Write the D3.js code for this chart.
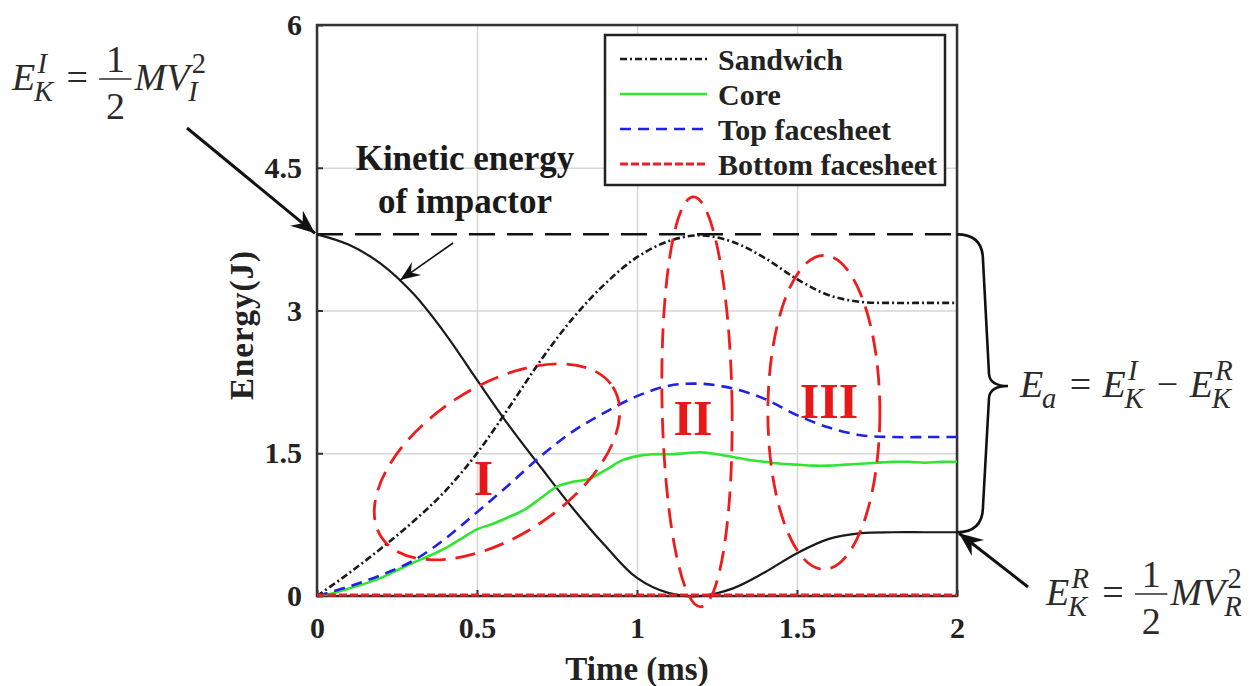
<!DOCTYPE html>
<html>
<head>
<meta charset="utf-8">
<script src="https://cdn.jsdelivr.net/npm/d3@7"></script>
<style>
  body { margin: 0; background: #fff; }
  svg { display: block; }
</style>
</head>
<body>
<svg id="chart" width="1253" height="686"></svg>
<script>
// time axis (ms) for the smooth curves
const time = [0, 0.1, 0.2, 0.3, 0.4, 0.5, 0.6, 0.7, 0.8, 0.9, 1.0,
              1.1, 1.2, 1.3, 1.4, 1.5, 1.6, 1.7, 1.8, 1.9, 2.0]
// energies (J)
const kinetic  = [3.80, 3.69, 3.49, 3.18, 2.76, 2.27, 1.79, 1.35, 0.92, 0.53, 0.19,
                  0.03, 0.00, 0.08, 0.25, 0.45, 0.60, 0.66, 0.67, 0.67, 0.67]
const sandwich = [0.00, 0.24, 0.50, 0.78, 1.10, 1.50, 1.98, 2.48, 2.92, 3.28, 3.56,
                  3.73, 3.79, 3.72, 3.55, 3.33, 3.16, 3.09, 3.08, 3.08, 3.08]
const topSheet = [0.00, 0.10, 0.22, 0.37, 0.60, 0.88, 1.17, 1.47, 1.73, 1.93, 2.10,
                  2.21, 2.23, 2.18, 2.07, 1.90, 1.77, 1.69, 1.67, 1.67, 1.67]
const bottomSheet = [0.01, 0.01, 0.01, 0.01, 0.01, 0.01, 0.01, 0.01, 0.01, 0.01, 0.01,
                     0.01, 0.01, 0.01, 0.01, 0.01, 0.01, 0.01, 0.01, 0.01, 0.01]
// the core curve is wavy, so it is read at a finer step
const coreTime = [0, 0.05, 0.1, 0.15, 0.2, 0.25, 0.3, 0.35, 0.4, 0.45, 0.5,
                  0.55, 0.6, 0.65, 0.7, 0.75, 0.8, 0.85, 0.9, 0.95, 1.0,
                  1.05, 1.1, 1.15, 1.2, 1.25, 1.3, 1.35, 1.4, 1.45, 1.5,
                  1.55, 1.6, 1.65, 1.7, 1.75, 1.8, 1.85, 1.9, 1.95, 2.0]
const core = [0.00, 0.03, 0.08, 0.13, 0.19, 0.27, 0.35, 0.42, 0.50, 0.60, 0.70,
              0.76, 0.83, 0.91, 1.03, 1.15, 1.20, 1.23, 1.32, 1.42, 1.47,
              1.49, 1.49, 1.50, 1.51, 1.49, 1.46, 1.43, 1.41, 1.39, 1.38,
              1.37, 1.37, 1.38, 1.39, 1.40, 1.41, 1.41, 1.40, 1.41, 1.41]

const xTicks = [0, 0.5, 1, 1.5, 2]
const yTicks = [0, 1.5, 3, 4.5, 6]
const legendNames = ["Sandwich", "Core", "Top facesheet", "Bottom facesheet"]
const stageLabels = ["I", "II", "III"]

const serif = "'Times New Roman', 'Liberation Serif', 'DejaVu Serif', serif"
const svg = d3.select("#chart")

const x = d3.scaleLinear().domain([0, 2]).range([317, 957])
const y = d3.scaleLinear().domain([0, 6]).range([596, 25])

// grid
svg.append("g")
    .attr("transform", "translate(0,596)")
    .call(d3.axisBottom(x).tickValues(xTicks).tickSize(-571).tickFormat(""))
    .call(g => g.select(".domain").remove())
    .selectAll("line").attr("stroke", "#d6d6d6").attr("stroke-width", 1.5)
svg.append("g")
    .attr("transform", "translate(317,0)")
    .call(d3.axisLeft(y).tickValues(yTicks).tickSize(-640).tickFormat(""))
    .call(g => g.select(".domain").remove())
    .selectAll("line").attr("stroke", "#d6d6d6").attr("stroke-width", 1.5)

// axes with inward ticks
const xAxis = svg.append("g")
    .attr("transform", "translate(0,596)")
    .call(d3.axisBottom(x).tickValues(xTicks).tickSizeInner(-6).tickSizeOuter(0)
        .tickPadding(21).tickFormat(d3.format("~g")))
const yAxis = svg.append("g")
    .attr("transform", "translate(317,0)")
    .call(d3.axisLeft(y).tickValues(yTicks).tickSizeInner(-6).tickSizeOuter(0)
        .tickPadding(15).tickFormat(d3.format("~g")))
for (const ax of [xAxis, yAxis]) {
    ax.select(".domain").remove()
    ax.selectAll("line").attr("stroke", "#333").attr("stroke-width", 2)
    ax.selectAll("text")
        .attr("fill", "#222")
        .style("font-family", serif)
        .style("font-size", "30px")
        .style("font-weight", "bold")
}

svg.append("rect")
    .attr("x", x(0)).attr("y", y(6))
    .attr("width", x(2) - x(0)).attr("height", y(0) - y(6))
    .attr("fill", "none").attr("stroke", "#333").attr("stroke-width", 2.5)

// axis titles
svg.append("text")
    .attr("x", (x(0) + x(2)) / 2).attr("y", 680)
    .attr("text-anchor", "middle")
    .style("font-family", serif).style("font-size", "33px").style("font-weight", "bold")
    .attr("fill", "#222")
    .text("Time (ms)")
svg.append("text")
    .attr("transform", "translate(253,325) rotate(-90)")
    .attr("text-anchor", "middle")
    .style("font-family", serif).style("font-size", "33px").style("font-weight", "bold")
    .style("letter-spacing", "1px")
    .attr("fill", "#222")
    .text("Energy(J)")

// impactor energy reference line
svg.append("line")
    .attr("x1", x(0)).attr("x2", x(2))
    .attr("y1", y(kinetic[0])).attr("y2", y(kinetic[0]))
    .attr("stroke", "#111").attr("stroke-width", 2.5)
    .attr("stroke-dasharray", "26,12")

// series
const styles = {
    Sandwich: { color: "#1a1a1a", dash: "7,3,2,3", width: 2.6 },
    Core: { color: "#2fe62f", dash: null, width: 2.6 },
    "Top facesheet": { color: "#2020e6", dash: "11,7", width: 2.6 },
    "Bottom facesheet": { color: "#e8202a", dash: "8,3", width: 3 }
}
const line = (xs) => d3.line()
    .x((d, i) => x(xs[i]))
    .y(d => y(d))
    .curve(d3.curveCatmullRom)

function drawSeries(values, xs, st) {
    svg.append("path")
        .datum(values)
        .attr("d", line(xs))
        .attr("fill", "none")
        .attr("stroke", st.color)
        .attr("stroke-width", st.width)
        .attr("stroke-dasharray", st.dash)
}
drawSeries(kinetic, time, { color: "#1a1a1a", dash: null, width: 2.2 })
drawSeries(core, coreTime, styles.Core)
drawSeries(topSheet, time, styles["Top facesheet"])
drawSeries(sandwich, time, styles.Sandwich)
drawSeries(bottomSheet, time, styles["Bottom facesheet"])

// stage ellipses (centre in data units, radii in px)
const stages = [
    { t: 0.5625, e: 1.41, rx: 138, ry: 75, rot: -33, lt: 0.52, le: 1.06 },
    { t: 1.1875, e: 2.04, rx: 35, ry: 205, rot: -1, lt: 1.175, le: 1.69 },
    { t: 1.584, e: 1.93, rx: 56, ry: 157, rot: 0, lt: 1.60, le: 1.87 }
]
stages.forEach((s, i) => {
    svg.append("ellipse")
        .attr("transform", "translate(" + x(s.t) + "," + y(s.e) + ") rotate(" + s.rot + ")")
        .attr("rx", s.rx).attr("ry", s.ry)
        .attr("fill", "none").attr("stroke", "#f01c1c").attr("stroke-width", 2.8)
        .attr("stroke-dasharray", "20,10")
    svg.append("text")
        .attr("x", x(s.lt)).attr("y", y(s.le))
        .attr("text-anchor", "middle")
        .style("font-family", serif).style("font-size", "50px").style("font-weight", "bold")
        .attr("fill", "#e81818")
        .text(stageLabels[i])
})

// legend
const leg = svg.append("g")
leg.append("rect")
    .attr("x", 605).attr("y", 35).attr("width", 340).attr("height", 150)
    .attr("fill", "#fff").attr("stroke", "#222").attr("stroke-width", 2.5)
legendNames.forEach((name, i) => {
    const ly = 59 + i * 35
    const st = styles[name]
    leg.append("line")
        .attr("x1", 620).attr("x2", 707).attr("y1", ly).attr("y2", ly)
        .attr("stroke", st.color).attr("stroke-width", st.width)
        .attr("stroke-dasharray", st.dash)
    leg.append("text")
        .attr("x", 718).attr("y", ly).attr("dy", "0.35em")
        .style("font-family", serif).style("font-size", "30px").style("font-weight", "bold")
        .attr("fill", "#222")
        .text(name)
})

// arrow markers
const defs = svg.append("defs")
defs.append("marker")
    .attr("id", "head").attr("markerUnits", "userSpaceOnUse")
    .attr("viewBox", "-24 -12 26 24").attr("refX", 0).attr("refY", 0)
    .attr("markerWidth", 26).attr("markerHeight", 24).attr("orient", "auto")
    .append("path").attr("d", "M0,0 L-24,-10 L-16,0 L-24,10 Z").attr("fill", "#111")
defs.append("marker")
    .attr("id", "headSmall").attr("markerUnits", "userSpaceOnUse")
    .attr("viewBox", "-20 -10 22 20").attr("refX", 0).attr("refY", 0)
    .attr("markerWidth", 22).attr("markerHeight", 20).attr("orient", "auto")
    .append("path").attr("d", "M0,0 L-20,-8 L-13,0 L-20,8 Z").attr("fill", "#111")

// "Kinetic energy of impactor" note
const note = svg.append("text")
    .attr("text-anchor", "middle")
    .style("font-family", serif).style("font-size", "35px").style("font-weight", "bold")
    .attr("fill", "#1a1a1a")
note.append("tspan").attr("x", 465).attr("y", 170).text("Kinetic energy")
note.append("tspan").attr("x", 465).attr("y", 213).text("of impactor")
svg.append("line")
    .attr("x1", 453).attr("y1", 243).attr("x2", x(0.26)).attr("y2", y(3.32))
    .attr("stroke", "#111").attr("stroke-width", 1.6)
    .attr("marker-end", "url(#headSmall)")

// arrows to E_K^I and E_K^R
svg.append("line")
    .attr("x1", 187).attr("y1", 128).attr("x2", x(0) - 2).attr("y2", y(kinetic[0]) - 1)
    .attr("stroke", "#111").attr("stroke-width", 3)
    .attr("marker-end", "url(#head)")
svg.append("line")
    .attr("x1", 1028).attr("y1", 587).attr("x2", x(2) + 2).attr("y2", y(kinetic[kinetic.length - 1]) + 1)
    .attr("stroke", "#111").attr("stroke-width", 3)
    .attr("marker-end", "url(#head)")

// brace for E_a
const yT = y(kinetic[0]), yB = y(kinetic[kinetic.length - 1]), yM = 386
svg.append("path")
    .attr("d", `M${x(2)},${yT} Q983,${yT} 983,${yT + 26} L989,${yM - 12} Q990,${yM} 1008,${yM}
                Q990,${yM} 989,${yM + 12} L983,${yB - 26} Q983,${yB} ${x(2)},${yB}`)
    .attr("fill", "none").attr("stroke", "#111").attr("stroke-width", 2.6)

// math formulas
function formula(x0, y0, S, items) {
    const g = svg.append("g").attr("fill", "#2b2b2b").style("font-family", serif)
    let cx = x0
    const put = (txt, px, py, size, italic) => {
        const t = g.append("text").attr("x", px).attr("y", py)
            .style("font-size", size + "px")
            .style("font-style", italic ? "italic" : "normal")
            .text(txt)
        return t.node().getComputedTextLength()
    }
    items.forEach(it => {
        if (it.base) {
            const w = put(it.base, cx, y0, S, true)
            let sw = 0
            if (it.sup) sw = Math.max(sw, put(it.sup, cx + w + 0.06 * S, y0 - 0.45 * S, 0.75 * S, !it.supUp) + 0.06 * S)
            if (it.sub) sw = Math.max(sw, put(it.sub, cx + w - 0.03 * S, y0 + 0.28 * S, 0.75 * S, true) - 0.03 * S)
            cx += w + sw + 0.05 * S
        } else if (it.op) {
            cx += 0.3 * S
            const w = put(it.op, cx, y0, S, false)
            cx += w + 0.3 * S
        } else if (it.frac) {
            const tmp = g.append("text").style("font-size", S + "px").text(it.frac[0])
            const w = tmp.node().getComputedTextLength()
            tmp.remove()
            const bw = w + 0.35 * S
            put(it.frac[0], cx + (bw - w) / 2, y0 - 0.47 * S, S, false)
            put(it.frac[1], cx + (bw - w) / 2, y0 + 0.77 * S, S, false)
            g.append("line").attr("x1", cx).attr("x2", cx + bw)
                .attr("y1", y0 - 0.29 * S).attr("y2", y0 - 0.29 * S)
                .attr("stroke", "#2b2b2b").attr("stroke-width", 1.7)
            cx += bw + 0.08 * S
        }
    })
}
formula(12, 90, 38, [
    { base: "E", sup: "I", sub: "K" }, { op: "=" }, { frac: ["1", "2"] },
    { base: "MV", sup: "2", sub: "I", supUp: true }
])
formula(1020, 397, 38, [
    { base: "E", sub: "a" }, { op: "=" }, { base: "E", sup: "I", sub: "K" },
    { op: "\u2212" }, { base: "E", sup: "R", sub: "K" }
])
formula(1046, 605, 38, [
    { base: "E", sup: "R", sub: "K" }, { op: "=" }, { frac: ["1", "2"] },
    { base: "MV", sup: "2", sub: "R", supUp: true }
])
</script>
</body>
</html>
